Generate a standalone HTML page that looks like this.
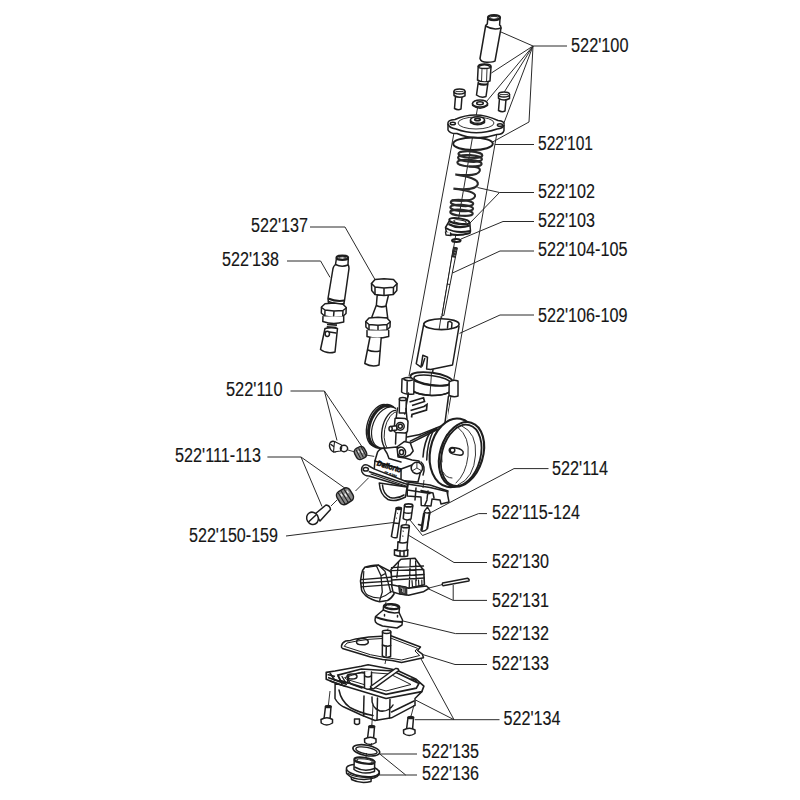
<!DOCTYPE html>
<html><head><meta charset="utf-8"><style>
html,body{margin:0;padding:0;background:#fff;width:800px;height:800px;overflow:hidden}
svg{display:block}
text{font-family:"Liberation Sans",sans-serif;font-size:19.5px;fill:#161616;stroke:#161616;stroke-width:0.15}
.l{stroke:#2a2a2a;stroke-width:1;fill:none}
.p{stroke:#1e1e1e;stroke-width:1.5;fill:#fff;stroke-linejoin:round;stroke-linecap:round}
.n{stroke:#1e1e1e;stroke-width:1.5;fill:none;stroke-linejoin:round;stroke-linecap:round}
.t{stroke:#1e1e1e;stroke-width:0.9;fill:none}
.k{stroke:#1e1e1e;stroke-width:2.2;fill:none}
</style></head><body>
<svg width="800" height="800" viewBox="0 0 800 800">
<!-- LABELS -->
<g id="labels">
<text x="571" y="51.5" textLength="57.5" lengthAdjust="spacingAndGlyphs">522'100</text>
<text x="538" y="149.5" textLength="55" lengthAdjust="spacingAndGlyphs">522'101</text>
<text x="538" y="198" textLength="57" lengthAdjust="spacingAndGlyphs">522'102</text>
<text x="538" y="226.5" textLength="57" lengthAdjust="spacingAndGlyphs">522'103</text>
<text x="538" y="255.5" textLength="89.5" lengthAdjust="spacingAndGlyphs">522'104-105</text>
<text x="538" y="321.5" textLength="89.5" lengthAdjust="spacingAndGlyphs">522'106-109</text>
<text x="251" y="231.5" textLength="57" lengthAdjust="spacingAndGlyphs">522'137</text>
<text x="222" y="265.5" textLength="57" lengthAdjust="spacingAndGlyphs">522'138</text>
<text x="226" y="396" textLength="56.5" lengthAdjust="spacingAndGlyphs">522'110</text>
<text x="175" y="462" textLength="86" lengthAdjust="spacingAndGlyphs">522'111-113</text>
<text x="189" y="541.5" textLength="89" lengthAdjust="spacingAndGlyphs">522'150-159</text>
<text x="552" y="474.5" textLength="56" lengthAdjust="spacingAndGlyphs">522'114</text>
<text x="492" y="519" textLength="88" lengthAdjust="spacingAndGlyphs">522'115-124</text>
<text x="492" y="567.5" textLength="57" lengthAdjust="spacingAndGlyphs">522'130</text>
<text x="492" y="606.5" textLength="57" lengthAdjust="spacingAndGlyphs">522'131</text>
<text x="492" y="639.5" textLength="57" lengthAdjust="spacingAndGlyphs">522'132</text>
<text x="492" y="670" textLength="57" lengthAdjust="spacingAndGlyphs">522'133</text>
<text x="503.5" y="724.5" textLength="57" lengthAdjust="spacingAndGlyphs">522'134</text>
<text x="422" y="758" textLength="57" lengthAdjust="spacingAndGlyphs">522'135</text>
<text x="422" y="779.5" textLength="57" lengthAdjust="spacingAndGlyphs">522'136</text>
</g>
<!-- LEADERS -->
<g class="l">
<path d="M567,46H533L501,32M533,46L491.4,73M533,46L486.5,101.5M533,46L504.4,91.8M533,46L502.8,126M533,46L529,122L492.2,142.2"/>
<path d="M495,144.5H534"/>
<path d="M534,192.5H499.5L477.5,187.5M499.5,192.5L470,223"/>
<path d="M534,221.5H503L461,239"/>
<path d="M534,251H500L452.5,273"/>
<path d="M534,315H500L459.5,333.4"/>
<path d="M310,227H345L374.7,279"/>
<path d="M287,261H320.6L330,277.4"/>
<path d="M290.5,391H324.4L337,440.5M324.4,391L362.5,447.4"/>
<path d="M267.4,457H301L322,506.5M301,457L345.4,488.5"/>
<path d="M286,536L393.5,522.5"/>
<path d="M548.5,468.6H514L430,513"/>
<path d="M487,513.6H478.6L422.5,535.5L410,520"/>
<path d="M487,562.5H454L409,535.5"/>
<path d="M487,600.4H453.2V585M453.2,600.4L428.8,589"/>
<path d="M487,633.6H455.5L403,621"/>
<path d="M487,664.5H455L421,654"/>
<path d="M499.5,719.7H454L420.8,658.5M454,719.7L415.5,700M454,719.7H414.7"/>
<path d="M379.8,754H417"/>
<path d="M377.5,775H417M379.8,754L405.7,775"/>
</g>
<!-- TUBE OUTLINE + AXIS -->
<g class="l">
<path d="M454.9,128L409,376"/>
<path d="M497.7,128.7L446.3,422.5"/>
<path d="M477.5,108L431,380"/>
</g>

<!-- PARTS -->
<g id="topparts">
<!-- A tube -->
<path class="p" d="M487.8,18 L487.3,24 Q486,24.5 485.6,26 L480,58.5 Q481,62.5 487.5,62.3 Q494,62 495,61 L501,28 Q501,25.5 499.6,25 L500,18.5 Z"/>
<path class="n" d="M485.6,26 Q493,30.5 501,28"/>
<ellipse style="fill:#fff" class="k" cx="494" cy="17.6" rx="6" ry="2.5"/>
<ellipse class="t" cx="494" cy="17.8" rx="4" ry="1.4"/>
<!-- B nut -->
<path class="p" d="M478.2,66.5 L477.5,80 Q483,83.5 490,81 L491,67 Q485,62.5 478.2,66.5 Z"/>
<path class="t" d="M482,68.5 L481.5,82 M487,68.5 L486.5,82"/>
<ellipse class="n" cx="484.6" cy="66.2" rx="6.4" ry="2.3"/>
<path class="p" d="M478.3,82 L476.5,95 Q481,98.5 486,96.5 L488,82.5"/>
<path class="k" d="M478.2,83.5 Q483,85.5 488,84"/>
<!-- C washer -->
<path class="p" d="M472.5,103.5 L472.6,105.5 Q480,111 487.5,105.5 L487.5,103.5"/>
<ellipse class="p" cx="480" cy="103.5" rx="7.5" ry="3.6"/>
<ellipse class="n" cx="480" cy="103.3" rx="3.3" ry="1.5"/>
<!-- D screws -->
<path class="p" d="M455.5,96 L454.5,108.5 Q458,110.5 461,109 L462,96.5"/>
<path class="p" d="M454,91.5 L454,95.5 Q459.5,99 465,95.8 L465,91.5"/>
<ellipse class="p" cx="459.5" cy="91.4" rx="5.5" ry="2.5"/>
<path class="t" d="M455.5,91.6 H463.5"/>
<path class="p" d="M499.5,98.5 L498.5,110.5 Q502,112.5 505,111 L506,99"/>
<path class="p" d="M498.5,94.5 L498.5,98.3 Q504,101.5 509.5,98.5 L509.5,94.5"/>
<ellipse class="p" cx="504" cy="94.4" rx="5.5" ry="2.5"/>
<path class="t" d="M500,94.6 H508"/>
<!-- E plate -->
<path class="p" d="M448,124 L448,130 Q450,134 457,133.5 Q476,141.5 497,134.5 Q503,134.5 504,130.5 L504,125.5"/>
<path class="p" d="M448,124 Q447,120 455,119.5 Q476,110 498,120.5 Q505,121 504,125 Q503,128.5 497,129 Q476,136.5 456,129 Q449,128 448,124 Z"/>
<ellipse class="t" cx="476" cy="123" rx="18" ry="6"/>
<ellipse class="n" cx="452.8" cy="123.5" rx="2.6" ry="1.3"/>
<ellipse class="n" cx="500" cy="125" rx="2.6" ry="1.3"/>
<path class="p" d="M470.5,120 L470.5,122.5 Q477.5,127 484.5,122.5 L484.5,120"/>
<ellipse class="p" cx="477.5" cy="120" rx="7" ry="3.3"/>
<ellipse style="stroke-width:1.6" class="k" cx="477.5" cy="119.6" rx="2.8" ry="1.2"/>
<!-- F o-ring -->
<ellipse style="stroke-width:2" class="k" cx="473" cy="143.8" rx="19.8" ry="6.2"/>
</g>

<g id="midparts">
<!-- G spring -->
<g class="k" style="stroke-width:2.1;stroke:#2a2a2a">
<ellipse cx="470.4" cy="154.6" rx="12" ry="3.2" transform="rotate(4 470.4 154.6)"/>
<ellipse cx="470" cy="158.4" rx="12" ry="3.3" transform="rotate(4 470 158.4)"/>
<ellipse cx="469.5" cy="163.2" rx="12.2" ry="3.3" transform="rotate(4 469.5 163.2)"/>
<path d="M469,166.5 C476,166.5 481,167.5 479.7,171 C478.5,175 468,176 455.3,174.5 C468,176.5 479,179 477.8,184.4 C476.5,189 466,190 453.4,188.6 C466,190 476.5,192.5 475,196.5 C473.5,200.5 463,201.5 451.6,200.3"/>
<ellipse cx="462" cy="203" rx="11.3" ry="3" transform="rotate(4 462 203)"/>
<ellipse cx="461.7" cy="208" rx="11.4" ry="3.1" transform="rotate(4 461.7 208)"/>
<ellipse cx="461.5" cy="212.8" rx="11.3" ry="3" transform="rotate(4 461.5 212.8)"/>
</g>
<!-- H seat -->
<path class="p" d="M449,221.5 L445.5,227.5 L446,230.5 L447.5,233.8 Q457,236.8 470,233.2 L470.5,231 L469.8,222.5 Z"/>
<path style="stroke-width:2" class="k" d="M445.8,228 Q456,234 470.2,231"/>
<path style="stroke-width:2.2" class="k" d="M448.5,224 Q458,229.5 469.8,225.5"/>
<path style="stroke-width:1.5" class="k" d="M447.2,233.3 Q457,236.5 470,233"/>
<ellipse style="stroke-width:1.9;fill:#fff" class="k" cx="459.3" cy="221.2" rx="10.2" ry="2.9" transform="rotate(8 459.3 221.2)"/>
<ellipse style="stroke-width:1" class="n" cx="460" cy="221.6" rx="6.2" ry="1.7" transform="rotate(8 460 221.6)"/>
<path style="stroke-width:1.4" class="p" d="M445.5,232 L446,235 L451,235.5 L450.5,233"/>
<!-- I clip -->
<ellipse style="stroke-width:2" class="k" cx="456.3" cy="240.6" rx="4.3" ry="1.5"/>
<!-- J needle -->
<path style="stroke-width:1" class="p" d="M453.8,247.3 L457.3,247.8 L443.8,315.5 L442.4,315.3 Z"/>
<path d="M455.6,247.5 L453.6,257.5" stroke="#2a2a2a" stroke-width="4"/>
<path d="M454.6,250 L456.4,250.3 M454.1,252.6 L455.9,252.9 M453.6,255.2 L455.4,255.5" stroke="#aaa" stroke-width="0.7"/>
<path class="t" d="M446.8,284 L450,284.5"/>
<!-- K slide -->
<path class="p" d="M423.9,323.5 L416.25,363.75 L421,367.2 L422.8,355.3 L427.5,357.2 L426.6,369 L430.6,369.4 L452.5,365 L459,326.5"/>
<path class="n" d="M424.7,358.5 L422.2,366"/>
<ellipse style="stroke-width:1.6;fill:#fff" class="k" cx="441.5" cy="324.2" rx="17.6" ry="5.4"/>
<path class="n" d="M448,322 L447.5,328 M452,323 L451.5,328.5 M448,322 Q450,320.5 452,323"/>
<path class="t" d="M441.2,316 L439,330 M433.3,369.5 L432.3,376"/>
</g>

<g id="body">
<!-- white backing for body -->
<path d="M395,404 L409,392 L449,394 L447,424 L470,440 L452,476 L447,497 L441,504 L423,506 L407,497 L395,502 L380,497 L378,483 L362,472 L364,465 L376,457 L383,447 L368,436 Z" fill="#fff" stroke="none"/>
<!-- tower -->
<path class="n" d="M408.5,393 L404.6,414 M448.4,396.5 L444.8,424"/>
<!-- ring flange -->
<path class="p" d="M410.5,377 L409.8,388 Q412,394 431.7,395.5 Q450,395 452,389 L452.7,380.5"/>
<ellipse style="fill:#fff;stroke-width:1.8" class="k" cx="431.5" cy="379" rx="21.2" ry="6.3" transform="rotate(8 431.5 379)"/>
<ellipse class="n" cx="432" cy="380.2" rx="18.2" ry="4.6" transform="rotate(8 432 380.2)"/>
<path style="stroke-width:1.7" class="k" d="M410.5,387.5 Q413,394.5 431.7,395.5 Q449,395.5 452,389"/>
<path class="p" d="M402,379 L401.6,392 Q405,395 413.8,394 L414,379.5 Q410,376 402,379 Z"/>
<path class="n" d="M404,379.5 Q408,381.5 412.5,380 M407.2,381 L407,393.5"/>
<path class="p" d="M449.2,382 L449,395.5 Q454,397.5 458,396 L458,381 Q453,379 449.2,382 Z"/>
<path class="t" d="M431.5,373 L430,395"/>
<!-- left bell -->
<ellipse style="stroke-width:1.3" class="p" cx="380.2" cy="425.5" rx="12.9" ry="21.7" transform="rotate(17 380.2 425.5)"/>
<ellipse style="stroke-width:3" class="k" cx="383.2" cy="426.4" rx="13.6" ry="21.7" transform="rotate(19 383.2 426.4)"/>
<ellipse style="stroke-width:1.2" class="p" cx="386.5" cy="427.5" rx="13.8" ry="21.3" transform="rotate(21 386.5 427.5)"/>
<ellipse style="stroke-width:1.4" class="p" cx="393.5" cy="431" rx="11.5" ry="20.8" transform="rotate(10 393.5 431)"/>
<ellipse style="stroke-width:0.9" class="n" cx="395.5" cy="431.5" rx="11" ry="20" transform="rotate(10 395.5 431.5)"/>
<path d="M396,406 L406,400 L410,396 L432,397 L449,396 L447,424 L410,442 L397,446 Z" fill="#fff" stroke="none"/>
<path class="n" d="M408.5,393 L404.6,414 M448.4,396.5 L444.8,424"/>
<!-- logo -->
<path style="stroke-width:1.7" class="k" d="M409.5,402 L423.5,397.8 L424.5,401.5 L412,405.5 M410.5,410.5 L424,406.5 L427,404.5 L426.5,410 L412,414.5 L411.5,417.5"/>
<!-- tickler nipple -->
<path class="p" d="M399.4,399 L399.3,413 L406,413 L406.3,399"/>
<ellipse class="p" cx="402.8" cy="399" rx="3.4" ry="1.6"/>
<!-- idle block -->
<path class="n" d="M397.5,408 L396,419 M406,408.5 L407,419"/>
<path class="p" d="M395,419.5 Q394.5,418 397,418 L405,418.5 Q408,419.5 408,422 L407.5,431 Q407,433 404.5,433 L396,432.5 Q394,432 394,430 Z"/>
<circle class="p" cx="400.3" cy="426.3" r="3.9"/>
<circle class="n" cx="400.3" cy="426.3" r="2"/>
<path class="p" d="M390.5,426.6 L396.8,425.8 L396.8,430 L390.8,430.8 Z"/>
<ellipse class="p" cx="390.6" cy="428.7" rx="1.6" ry="2.2"/>
<path class="n" d="M396,433 L395.5,444 M406.5,433 L406,441"/>
<!-- body lines -->
<path class="n" d="M407,437 L420,434.4 M410.3,441.2 L437,428 M411,442.8 L437.5,429.5"/>
<path class="n" d="M430.5,431.5 Q424,442 423,457 M433.5,430 Q427,444 426.7,460"/>
<!-- boss 1 -->
<path class="p" d="M397.5,446.5 L404.2,441.6 L410.2,442.8 L413.2,451 L410.2,454.8 L405,457 Q398,458 396.5,452 Z"/>
<ellipse style="stroke-width:1.6" class="k" cx="401.3" cy="452" rx="4.2" ry="5" transform="rotate(-20 401.3 452)"/>
<ellipse class="n" cx="401.5" cy="452.3" rx="2" ry="2.5"/>
<!-- right bell -->
<path class="n" d="M420,434.4 L441.2,426"/>
<ellipse style="stroke-width:2.1" class="p" cx="453.7" cy="452.8" rx="23.6" ry="34.6" transform="rotate(11 453.7 452.8)"/>
<ellipse style="stroke-width:2.1" class="p" cx="461.5" cy="454.4" rx="21.4" ry="33.2" transform="rotate(17 461.5 454.4)"/>
<ellipse style="stroke-width:1.8" class="k" cx="461.2" cy="455.3" rx="19.3" ry="31.2" transform="rotate(15 461.2 455.3)"/>
<path style="stroke-width:0.9" class="n" d="M462,426 Q477,433 475.5,455 Q474,478 458,485"/>
<path style="stroke-width:0.9" class="n" d="M458,427.5 Q470,437 468,456 Q466,474 456,483"/>
<path style="stroke-width:0.9" class="n" d="M447,434 Q440,447 442,462 M443,472 Q446,478 452,478"/>
<path class="p" d="M452,447.5 Q448,448.5 449.7,452 Q451,454.5 460,455.2 Q464,455 463,451.5 Q461,448 452,447.5 Z"/>
<ellipse class="n" cx="452.5" cy="450.2" rx="2.3" ry="2.2"/>
<!-- lower chamber -->
<path class="p" d="M374.9,461 L377.5,452.2 Q380,448 384,448.3 L397,447 L398,457 L405,458 L412,460 L419,461 L421,470 L418,482 L401,480.5 L374,472 Z"/>
<path class="n" d="M374.9,461 L401.1,469 L412,465 M401.1,469 L401,480.5 M384,448.5 Q388,454 389,458.5 L401,462"/>
<g transform="rotate(17 389 467)"><text x="376.5" y="469" style="font-family:'Liberation Sans',sans-serif;font-weight:bold;font-style:italic;font-size:7.5px;fill:#111;stroke:#111;stroke-width:0.6" textLength="25" lengthAdjust="spacingAndGlyphs">Dellorto</text>
<text x="386" y="475.5" style="font-family:'Liberation Sans',sans-serif;font-size:4.5px;fill:#222;font-weight:bold;stroke:#222;stroke-width:0.3" textLength="13" lengthAdjust="spacingAndGlyphs">IT 13N</text></g>
<circle style="stroke-width:1.6" class="p" cx="416.9" cy="468" r="5.7"/>
<path class="t" d="M416.9,468 L416.9,462.5 M416.9,468 L412,471 M416.9,468 L421.8,471"/>
<path class="n" d="M421,462 Q426,466 423,475"/>
<!-- bowl flange bar -->
<path class="p" d="M364,465 Q360.5,467.5 362,472 Q364,476 369,476 L406.4,487.2 L430,490 L447,497.5 L448,491 L430,485 L407.25,482 L374,468.9 L369,466 Q367,464 364,465 Z"/>
<path style="stroke-width:1.7" class="k" d="M368.75,471.5 L405.5,483.75 L446,494"/>
<path style="stroke-width:1.2" class="n" d="M371,474 L406,486 L440,492.5"/>
<ellipse class="n" cx="365.8" cy="469.3" rx="2.6" ry="1.8"/>
<!-- lower bowl mount arc -->
<path class="p" d="M379.25,483 Q380,495 388,499.5 Q395,502.5 405.5,497 L407,487 Z"/>
<path class="n" d="M382.5,485 Q383,494 390,497.5 Q397,499.5 404,495"/>
<!-- right lower block -->
<path class="p" d="M407.25,484 L430,487.5 L447,491.5 L449,502 L441,504 L440,500 L432,499 L431,506 L421.25,505.6 L421,497 L407.25,496 Z"/>
<path class="n" d="M416,488 L415,500 M428,491 L427,499 M421,490.5 L433,493 L434,498 M407.5,490 L430,493.5"/>
<path class="t" d="M409,482 L407,492 M424,480 L423,488"/>
</g>

<g id="leftparts">
<!-- 138 -->
<path class="p" d="M336.5,258 L335.5,264.5 Q333.5,266 333,268.5 L328,298.5 L328.5,303 L343.5,305 L344.5,300.5 L349,268.5 Q349,266 348,264.5 L348.3,258.5 Z"/>
<path class="n" d="M335.5,264.5 Q341.5,267.5 348,265"/>
<path style="stroke-width:2" class="k" d="M328.2,298.5 Q336,302 344.5,300.6"/>
<path style="stroke-width:1.3" class="n" d="M328.4,301.3 Q336,305 344,303.3"/>
<ellipse style="stroke-width:2.1;fill:#fff" class="k" cx="342.3" cy="257.8" rx="5.8" ry="2.2"/>
<ellipse style="stroke-width:0.9" class="n" cx="342.3" cy="258" rx="3.6" ry="1.2"/>
<path class="p" d="M321.5,307 L325,303.8 L334,303 L343,304.3 L346.2,307.5 L346,313.5 L342.5,316.8 L333,317.5 L324.5,316 L321.3,313 Z"/>
<path class="n" d="M321.5,307.5 L325,310 L334,311 L343,310.5 L346.2,308 M325,310 L324.8,316 M334,311 L333.5,317.3 M343,310.5 L342.7,316.5"/>
<path class="p" d="M323,316.5 L322.8,321.5 Q333,325 343.7,322 L343.7,316.5"/>
<path style="stroke-width:1.7" class="k" d="M327,324.5 L337,325.2 M326.7,326.8 L336.6,327.5"/>
<path class="p" d="M325,328.5 L320.5,349.5 Q327,354.5 335,352 L337.5,328.5 Q331,327 325,328.5 Z"/>
<ellipse class="n" cx="327.3" cy="333.8" rx="2.2" ry="2.6"/>
<path class="n" d="M329.5,332 L336,333"/>
<!-- 137 -->
<path class="p" d="M377.2,295 L376.4,305 L371.5,318 L387.7,318 L386.1,305 L388.5,295 Z"/>
<path style="stroke-width:1.8" class="k" d="M376.3,305.5 Q381,308 386.2,306"/>
<path class="p" d="M371.5,283.5 L375,279.5 L384,278.7 L393.5,279.5 L397,283.5 L396.8,290.5 L393.3,294.5 L384,295.5 L375,294.5 L371.7,290.5 Z"/>
<path class="n" d="M371.5,283.5 L375,287 L384,288 L393.5,287.2 L397,283.7 M375,287 L375,294.3 M384,288 L384,295.3 M393.5,287.2 L393.3,294.3"/>
<path class="p" d="M365.8,321.5 L369,318 L378,317.3 L387,318 L390.2,321.5 L390,327 L387,330 L378,330.8 L369,330 L365.9,327 Z"/>
<path class="n" d="M365.8,321.8 L369,324.5 L378,325.3 L387,324.5 L390.2,322 M369,324.5 L369,329.8 M378,325.3 L378,330.6 M387,324.5 L387,329.8"/>
<path class="p" d="M367,330.5 L367,336.5 Q377,340 388.7,336.5 L388.7,330.5"/>
<path class="p" d="M369.9,337.5 L364.8,363.5 Q372,367.5 379,365 L381.2,337.8"/>
<path class="n" d="M367.8,350 Q373,352.5 379.8,351"/>
<!-- 110 parts -->
<ellipse class="p" cx="333.7" cy="446.6" rx="4" ry="5.4" transform="rotate(-20 333.7 446.6)"/>
<path class="n" d="M331,444.5 L336.5,448.5"/>
<path style="stroke-width:1.1" class="p" d="M334.5,441.5 L341.5,445 Q342.5,448 340.5,451 L333.5,452 Z"/>
<ellipse class="n" cx="344" cy="448.5" rx="3.6" ry="3.2"/>
<path class="t" d="M348,450 L355,452 M366,455 L374.2,456.4"/>
<g transform="rotate(-28 360.5 453)">
<rect x="355" y="447" width="11" height="12" rx="4" fill="#8a8a8a" stroke="#1e1e1e" stroke-width="1.4"/>
<path d="M358,448 L358,458 M361,448 L361,458 M364,448 L364,458" stroke="#222" stroke-width="1"/>
<path d="M359.5,450 L359.5,452 M362.5,451 L362.5,454" stroke="#eee" stroke-width="1.2"/>
</g>
<!-- 111-113 parts -->
<path class="t" d="M355.5,491 L368.7,477.7 M331,506 L337,500"/>
<g transform="rotate(-32 345 496.3)">
<rect x="337.5" y="489" width="15" height="14.5" rx="4.5" fill="#8a8a8a" stroke="#1e1e1e" stroke-width="1.5"/>
<path d="M341,490 L341,503 M344.5,490 L344.5,503 M348,490 L348,503" stroke="#1e1e1e" stroke-width="1.1"/>
<path d="M342.7,492 L342.7,495 M346.2,494 L346.2,497.5 M349.6,492.5 L349.6,495.5" stroke="#f0f0f0" stroke-width="1.3"/>
</g>
<path class="p" d="M315,514 L326,505 Q330,505.5 330.5,509.5 L320,521 Z"/>
<ellipse class="p" cx="312.5" cy="518.3" rx="5.7" ry="6.3" transform="rotate(-30 312.5 518.3)"/>
<path class="n" d="M309,521.5 L316,515"/>
</g>

<g id="lowparts">
<!-- jets -->
<path class="p" d="M396.2,508.3 L391.4,536.5 Q394,538.5 397,537.5 L401.4,508.7 Z"/>
<ellipse style="stroke-width:1.6" class="k" cx="398.8" cy="508.3" rx="2.6" ry="1.1"/>
<path style="stroke-width:1.6" class="k" d="M393.8,523 L399,523.5"/>
<path class="t" d="M397,513 L398,513.5 M396,518 L397,518.3"/>
<path class="p" d="M404.5,505.5 L403.2,518.6 Q407,521 411,519 L412.8,506 Z"/>
<ellipse style="stroke-width:1.6;fill:#fff" class="k" cx="408.6" cy="505.4" rx="4.1" ry="1.5"/>
<path style="stroke-width:1.4" class="k" d="M403.8,512.3 Q408,514 412,512.6"/>
<path class="t" d="M407,520 L405.5,526"/>
<path class="p" d="M401.4,526 L399.7,541.5 L398,542 L397.5,549.5 L394.5,550 L394.4,555 Q400,557.5 407.6,556 L407.8,550 L407,549 L407.5,542 L409.3,527 Z"/>
<ellipse style="stroke-width:1.6;fill:#fff" class="k" cx="405.4" cy="526.2" rx="4" ry="1.5"/>
<path class="n" d="M398,542 Q402.5,544 407.5,542 M394.5,550 Q401,552 407.8,550 M400,550.5 L400,556 M404,550.5 L404,556"/>
<path class="t" d="M402.5,531 L404,531.3 M402,536 L403.5,536.2"/>
<!-- needle jet 114 -->
<path style="stroke-width:1.3" class="p" d="M424.5,511 L427.5,507 L430,511.5 L427.1,529 Q424.5,532 421.1,531 Z"/>
<path d="M424.2,513 L421.5,530.5" stroke="#1e1e1e" stroke-width="2.4"/>
<path d="M429.6,513.2 L427.3,528.8" stroke="#1e1e1e" stroke-width="1.8"/>
<path class="n" d="M424.4,512 Q427,513.8 430,512.5"/>
<path class="n" d="M418.5,524.5 L422,525.5 M424.6,505.5 L427,500"/>
<!-- float 131 -->
<!-- left pontoon -->
<path style="stroke-width:1.6" class="p" d="M364.75,567.35 Q370,565.5 378.4,565.1 L390.1,571.25 L394,576.5 L394,594 Q391,599 387.5,600.5 L379.7,601.8 Q371,600 365.4,595.3 Q361,591 361.5,588.8 L360.5,581 L361.5,574.5 Q362,570 364.75,567.35 Z"/>
<path style="stroke-width:1.2" class="n" d="M366.7,567.4 L376.5,566 M363.8,571.25 Q363,580 363.5,588.2 Q365,594 368,595.3 Q373,598 379.7,598 Q386,596 391.4,591.4"/>
<path style="stroke-width:1.3" class="n" d="M376.5,566 L381,575.8 L381.7,584.3 L382.3,592 L379.7,600.5 M378.4,565.1 L385,571.25 L388.8,585 L390.8,592.7 M381,575.8 L385.5,573.5"/>
<path style="stroke-width:1.3" class="n" d="M360.8,579.7 L394,577 M361,583 L394,580.8 M361.3,586.9 L394,584.3"/>
<!-- right pontoon -->
<path style="stroke-width:1.6" class="p" d="M391,569.5 L400.9,559.2 L415,558.3 L423.25,570 L423.8,570.6 L424.4,584.7 L408.6,588.25 L392,586 Z"/>
<path style="stroke-width:1.3" class="n" d="M391.5,567.7 L423.5,566 M391.8,570.6 L423.8,569.5 M392,576.5 L424,574.5 M392,580 L424.2,578 M398.6,561.8 L396.8,577.7 M410.3,559.5 L409.2,588.25 M415.6,561.2 L416.2,580.6"/>
<path style="stroke-width:1.2" class="n" d="M412,580.6 L412.5,587 L416,587 L415.8,580.6 M418.5,580 L419,588.25 L422,588 L421.8,580"/>
<!-- pivot plate -->
<path style="stroke-width:1.5" class="p" d="M391.5,584.7 L408.6,588.25 L426.2,585.9 L429.1,588.25 L423.25,591.8 L408.6,595.3 L399.75,594.1 L393,592 Z"/>
<path d="M398.6,585.5 L406.8,587 L406.8,595 L399.5,594 Z" fill="#3a3a3a" stroke="#1e1e1e" stroke-width="1"/>
<path d="M400.5,588 L402.5,588.5 L402.5,592 M404,588.5 L404,593" stroke="#ccc" stroke-width="0.8"/>
<!-- pin -->
<path class="p" d="M442.6,583 L467.5,578.3 Q470,579.5 468.8,581 L443,585.8 Q441.5,584.5 442.6,583 Z"/>
<path class="t" d="M429,588 L442.6,584.5 M386,602 L385,606"/>
<!-- needle valve 132 -->
<path class="p" d="M383.5,606.5 L383.25,610 L375.5,616.5 L375,620 L375.5,622 Q377,624 379,624.5 L382.5,626 L397,628 L402,625 L402.5,620 L399,612.5 L399.5,607.5 Q391,602 383.5,606.5 Z"/>
<ellipse style="stroke-width:2.3" class="k" cx="391.6" cy="606.6" rx="7.6" ry="2.4" transform="rotate(5 391.6 606.6)"/>
<path d="M387,606 L388.5,606.3 M391,606.4 L392.5,606.7 M395,607 L396.5,607.2" stroke="#ddd" stroke-width="1.2"/>
<path class="n" d="M383.25,610 Q391,614 399,612.5 M384.5,614.5 L384.5,616 M397.5,615.5 L397.5,617"/>
<path style="stroke-width:2" class="k" d="M375.5,616.8 Q385,621 402.3,622"/>
<path class="t" d="M388,628.5 L387.5,631"/>
<!-- gasket 133 -->
<path style="stroke-width:1.5" class="p" d="M341.5,646 Q342,642.5 345.7,641 L350.4,640.4 L355.8,638.9 L368.8,637 L390.8,635.7 L420.5,647 L417.5,650.5 L422.3,654.1 L423.5,657.7 L401.5,662.4 L392,660.6 L382.5,659.4 L370.6,657 L342.5,648.5 Q341,647.5 341.5,646 Z"/>
<path style="stroke-width:1" class="n" d="M344.5,646 L347,643 L356,641.2 L369,639.3 L390.5,638 L417.5,648.3 L415,651 L419.7,655.5 L401.5,660 L382.5,657 L370.8,654.8 Z"/>
<path class="n" d="M356.5,642 Q357,638.5 362.5,638.6 Q368.5,639 368.3,642.2 Q367.5,645 362,644.8 Q356.5,644.8 356.5,642 Z"/>
<path class="p" d="M382.5,632 L382.3,656 Q386.5,658.5 390.6,656.5 L390.8,632"/>
<ellipse class="p" cx="386.6" cy="631.8" rx="4.2" ry="1.6"/>
<path class="n" d="M382.4,645 Q386.5,647 390.7,645.5 M386.3,646 L386.1,656"/>
<path class="t" d="M386,659 L385,664"/>
<!-- bowl 134 -->
<path class="p" d="M335.1,684 L335,698.5 Q338,704 343.4,706.8 L361.3,715 L375,720.5 L391.5,717.8 L415,705.4 L415,698.5 L421.8,691.6 Z"/>
<path class="n" d="M339,690 Q341,701 350,707.5 Q360,713 373,715.5 M364,696 L363.5,716 M377.5,698 L377,720 M390,699.5 L389.5,718 M372,697 Q371,708 380,711 Q389,712 393,705 M391.5,712 L414,701"/>
<path style="stroke-width:1.6" class="p" d="M326.2,672.4 L335,671 L361.3,666.2 L368.1,664.8 L397,670.3 L416.3,679.3 L423.9,686.1 L421.8,691.6 L386,698.5 L337.9,684 L326.2,679.3 Z"/>
<path style="stroke-width:1.7" class="k" d="M337.9,675.1 L361.3,669 L392.9,671 L419,683.4 L416.3,688.2 L386,694.4 L340.6,680.6 Z"/>
<path style="stroke-width:1" class="n" d="M345,677.5 L362,672 L390,674 L411,684.5 L386,691 L347,679.5 Z"/>
<path style="stroke-width:1.8" class="k" d="M328,677.5 L347,684.5 M330,681 L346,686.5 M327.5,674.5 L335,676.5"/>
<path style="stroke-width:1.4" class="n" d="M333,679 L345,683 M338,676 L342,684 M342,676.5 L346,683 M349,675 Q347,680 351,684 L362,688"/>
<path style="stroke-width:1.5" class="k" d="M347.5,678 L348,684 M353,674.5 Q360,672 364.5,673"/>
<path class="p" d="M364.5,672 L364.5,688 Q368,690.5 371.5,688 L371.5,672"/>
<path class="n" d="M364.6,676 Q368,678 371.4,676"/>
<path class="p" d="M370.5,686.5 L395.5,668.5 Q398.5,668 398.8,670.5 L373.5,688.8 Q371,689.2 370.5,686.5 Z"/>
<ellipse class="n" cx="352" cy="676.5" rx="5" ry="2.5"/>
<path class="n" d="M411,679 Q415,678.5 416.5,681.5 M330,673 L334.5,680"/>
<!-- bowl screws -->
<path class="p" d="M325.5,706.5 L324,719 L330,719.5 L331,706.8 Z"/>
<ellipse class="n" cx="328.3" cy="706.5" rx="2.8" ry="1.1"/>
<path class="p" d="M321,719.5 L321.2,723 Q326.5,727 332.5,723 L332.5,719.5 Q327,716 321,719.5 Z"/>
<path class="p" d="M369,726.5 L367.5,738.5 L373.5,739 L374.5,726.8 Z"/>
<ellipse class="n" cx="371.8" cy="726.5" rx="2.8" ry="1.1"/>
<path class="p" d="M364.5,739 L364.7,742.5 Q370,746.5 376,742.5 L376,739 Q370.5,735.5 364.5,739 Z"/>
<path class="p" d="M408,717.5 L406.5,729.5 L412.5,730 L413.5,717.8 Z"/>
<ellipse class="n" cx="410.8" cy="717.5" rx="2.8" ry="1.1"/>
<path class="p" d="M403.5,730 L403.7,733.5 Q409,737.5 415,733.5 L415,730 Q409.5,726.5 403.5,730 Z"/>
<path class="p" d="M354.5,719 L354.5,723.5 Q357,725.5 359.5,723.5 L359.5,719 Z"/>
<path class="t" d="M330,691 L328.3,706 M373,705 L371.8,726 M414,705 L410.8,717"/>
<!-- o-ring 135 -->
<ellipse style="stroke-width:1.6" class="k" cx="366.3" cy="750.3" rx="13.6" ry="5.2" transform="rotate(10 366.3 750.3)"/>
<ellipse style="stroke-width:1.3" class="k" cx="366.5" cy="750.6" rx="10.8" ry="3.3" transform="rotate(10 366.5 750.6)"/>
<path class="t" d="M371.8,743 L371,746 M366.5,753 L365.8,759"/>
<!-- plug 136 -->
<path class="p" d="M351,776 L351.5,779.5 Q360,784 371,781.5 L371.3,777"/>
<path class="p" d="M346.3,770 L346.6,773.5 Q352,779.5 364,779.5 Q377,779 379.4,774 L379.2,771"/>
<ellipse style="stroke-width:1.6" class="p" cx="362.8" cy="770.5" rx="16.5" ry="5.8" transform="rotate(8 362.8 770.5)"/>
<path style="stroke-width:1.3" class="n" d="M348,773.5 Q356,778 370,777.5 Q377,776.5 378.8,773.5"/>
<path class="p" d="M354.2,760.5 L354,769.5 Q363,775.5 374.5,771.5 L374.7,761.5"/>
<path style="stroke-width:1.5" class="k" d="M354.5,767 Q364,772.5 374.5,768.5"/>
<ellipse style="stroke-width:2;fill:#fff" class="k" cx="364.4" cy="760.6" rx="10.2" ry="3" transform="rotate(8 364.4 760.6)"/>
<ellipse style="stroke-width:1" class="n" cx="364.6" cy="761" rx="7.8" ry="1.9" transform="rotate(8 364.6 761)"/>
</g>
</svg>
</body></html>
